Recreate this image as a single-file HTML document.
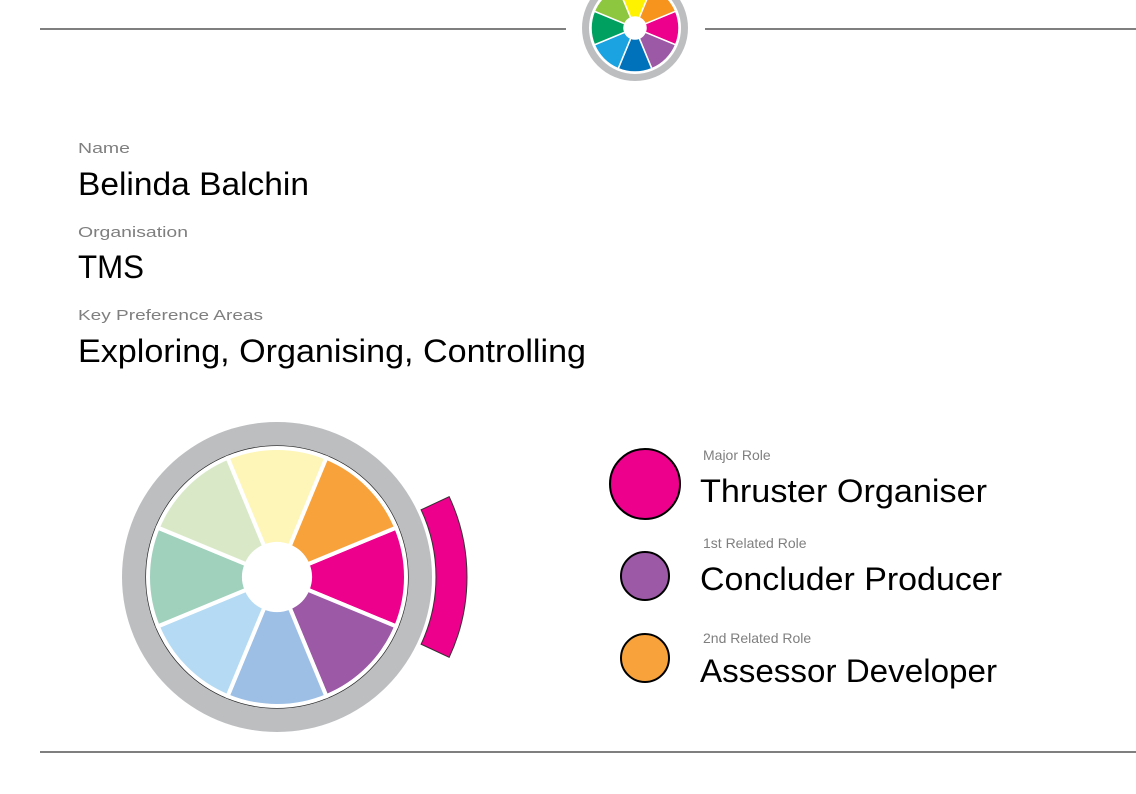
<!DOCTYPE html>
<html><head><meta charset="utf-8"><style>
html,body{margin:0;padding:0;background:#fff;}
svg{display:block;font-family:"Liberation Sans",sans-serif;}
</style></head><body>
<svg id="s" width="1136" height="794" viewBox="0 0 1136 794">
<line x1="40" y1="29" x2="566" y2="29" stroke="#333" stroke-width="1.3"/>
<line x1="705" y1="29" x2="1136" y2="29" stroke="#333" stroke-width="1.3"/>
<line x1="40" y1="752" x2="1136" y2="752" stroke="#333" stroke-width="1.3"/>
<g id="logo"></g>
<g id="wheel"></g>

<text x="78" y="153" font-size="15" fill="#7f7f7f" textLength="52" lengthAdjust="spacingAndGlyphs">Name</text>
<text x="78" y="195" font-size="32" fill="#000" textLength="231" lengthAdjust="spacingAndGlyphs">Belinda Balchin</text>
<text x="78" y="237" font-size="15" fill="#7f7f7f" textLength="110" lengthAdjust="spacingAndGlyphs">Organisation</text>
<text x="78" y="278" font-size="32" fill="#000" textLength="66" lengthAdjust="spacingAndGlyphs">TMS</text>
<text x="78" y="320" font-size="15" fill="#7f7f7f" textLength="185" lengthAdjust="spacingAndGlyphs">Key Preference Areas</text>
<text x="78" y="362" font-size="32" fill="#000" textLength="508" lengthAdjust="spacingAndGlyphs">Exploring, Organising, Controlling</text>

<circle cx="645" cy="484" r="35" fill="#ec008c" stroke="#000" stroke-width="2"/>
<text x="703" y="460" font-size="14" fill="#7f7f7f">Major Role</text>
<text x="700" y="502" font-size="32" fill="#000" textLength="287" lengthAdjust="spacingAndGlyphs">Thruster Organiser</text>
<circle cx="645" cy="576" r="24" fill="#9b59a6" stroke="#000" stroke-width="2"/>
<text x="703" y="548" font-size="14" fill="#7f7f7f">1st Related Role</text>
<text x="700" y="590" font-size="32" fill="#000" textLength="302" lengthAdjust="spacingAndGlyphs">Concluder Producer</text>
<circle cx="645" cy="658" r="24" fill="#f7a23b" stroke="#000" stroke-width="2"/>
<text x="703" y="643" font-size="14" fill="#7f7f7f">2nd Related Role</text>
<text x="700" y="682" font-size="32" fill="#000" textLength="297" lengthAdjust="spacingAndGlyphs">Assessor Developer</text>
</svg>
<script>
// wedge order clockwise starting at right (0deg)
const roles = ['thruster-organiser','concluder-producer','controller-inspector','upholder-maintainer','reporter-adviser','creator-innovator','explorer-promoter','assessor-developer'];
const paleColors = ['#ec008c','#9b59a6','#9dbfe6','#b4dbf3','#9fd1bd','#d9e9c8','#fdf6b8','#f7a23b'];
const logoColors = ['#ec008c','#9b59a6','#0072bc','#1aa3e0','#00a160','#8dc63f','#fff200','#f7941d'];
const highlightIndex = 0;
const NS='http://www.w3.org/2000/svg';
function mk(tag,attrs,parent){const e=document.createElementNS(NS,tag);for(const k in attrs)e.setAttribute(k,attrs[k]);parent.appendChild(e);return e;}
function pt(cx,cy,r,a){const t=a*Math.PI/180;return [cx+r*Math.cos(t),cy+r*Math.sin(t)];}
function wedge(cx,cy,r0,r1,a0,a1){const p1=pt(cx,cy,r1,a0),p2=pt(cx,cy,r1,a1),p3=pt(cx,cy,r0,a1),p4=pt(cx,cy,r0,a0);
return `M${p1}L${p1}A${r1},${r1} 0 0 1 ${p2}L${p3}A${r0},${r0} 0 0 0 ${p4}Z`;}
function drawWheel(g,cx,cy,R,rIn,rHole,colors,gap,names){
  const ring=mk('circle',{cx,cy,r:R,fill:'#bcbec0'},g);
  
  
  mk('circle',{cx,cy,r:rIn+2,fill:'#fff',stroke:'#222','stroke-width':names?1.3:0},g);
  colors.forEach((c,i)=>{
    const a=i*45;
    const p=mk('path',{d:wedge(cx,cy,rHole,rIn,a-22.5,a+22.5),fill:c,stroke:'#fff','stroke-width':gap},g);
    
    
  });
  mk('circle',{cx,cy,r:rHole,fill:'#fff'},g);
}
drawWheel(document.getElementById('logo'),635,28,53,44,11,logoColors,1.5,null);
const wg=document.getElementById('wheel');
drawWheel(wg,277,577,155,129,33,paleColors,4,roles);
const ha=highlightIndex*45;
const arc=mk('path',{d:wedge(277,577,159,190,ha-25,ha+25),fill:'#ec008c',stroke:'#333','stroke-width':1},wg);


</script>
</body></html>
